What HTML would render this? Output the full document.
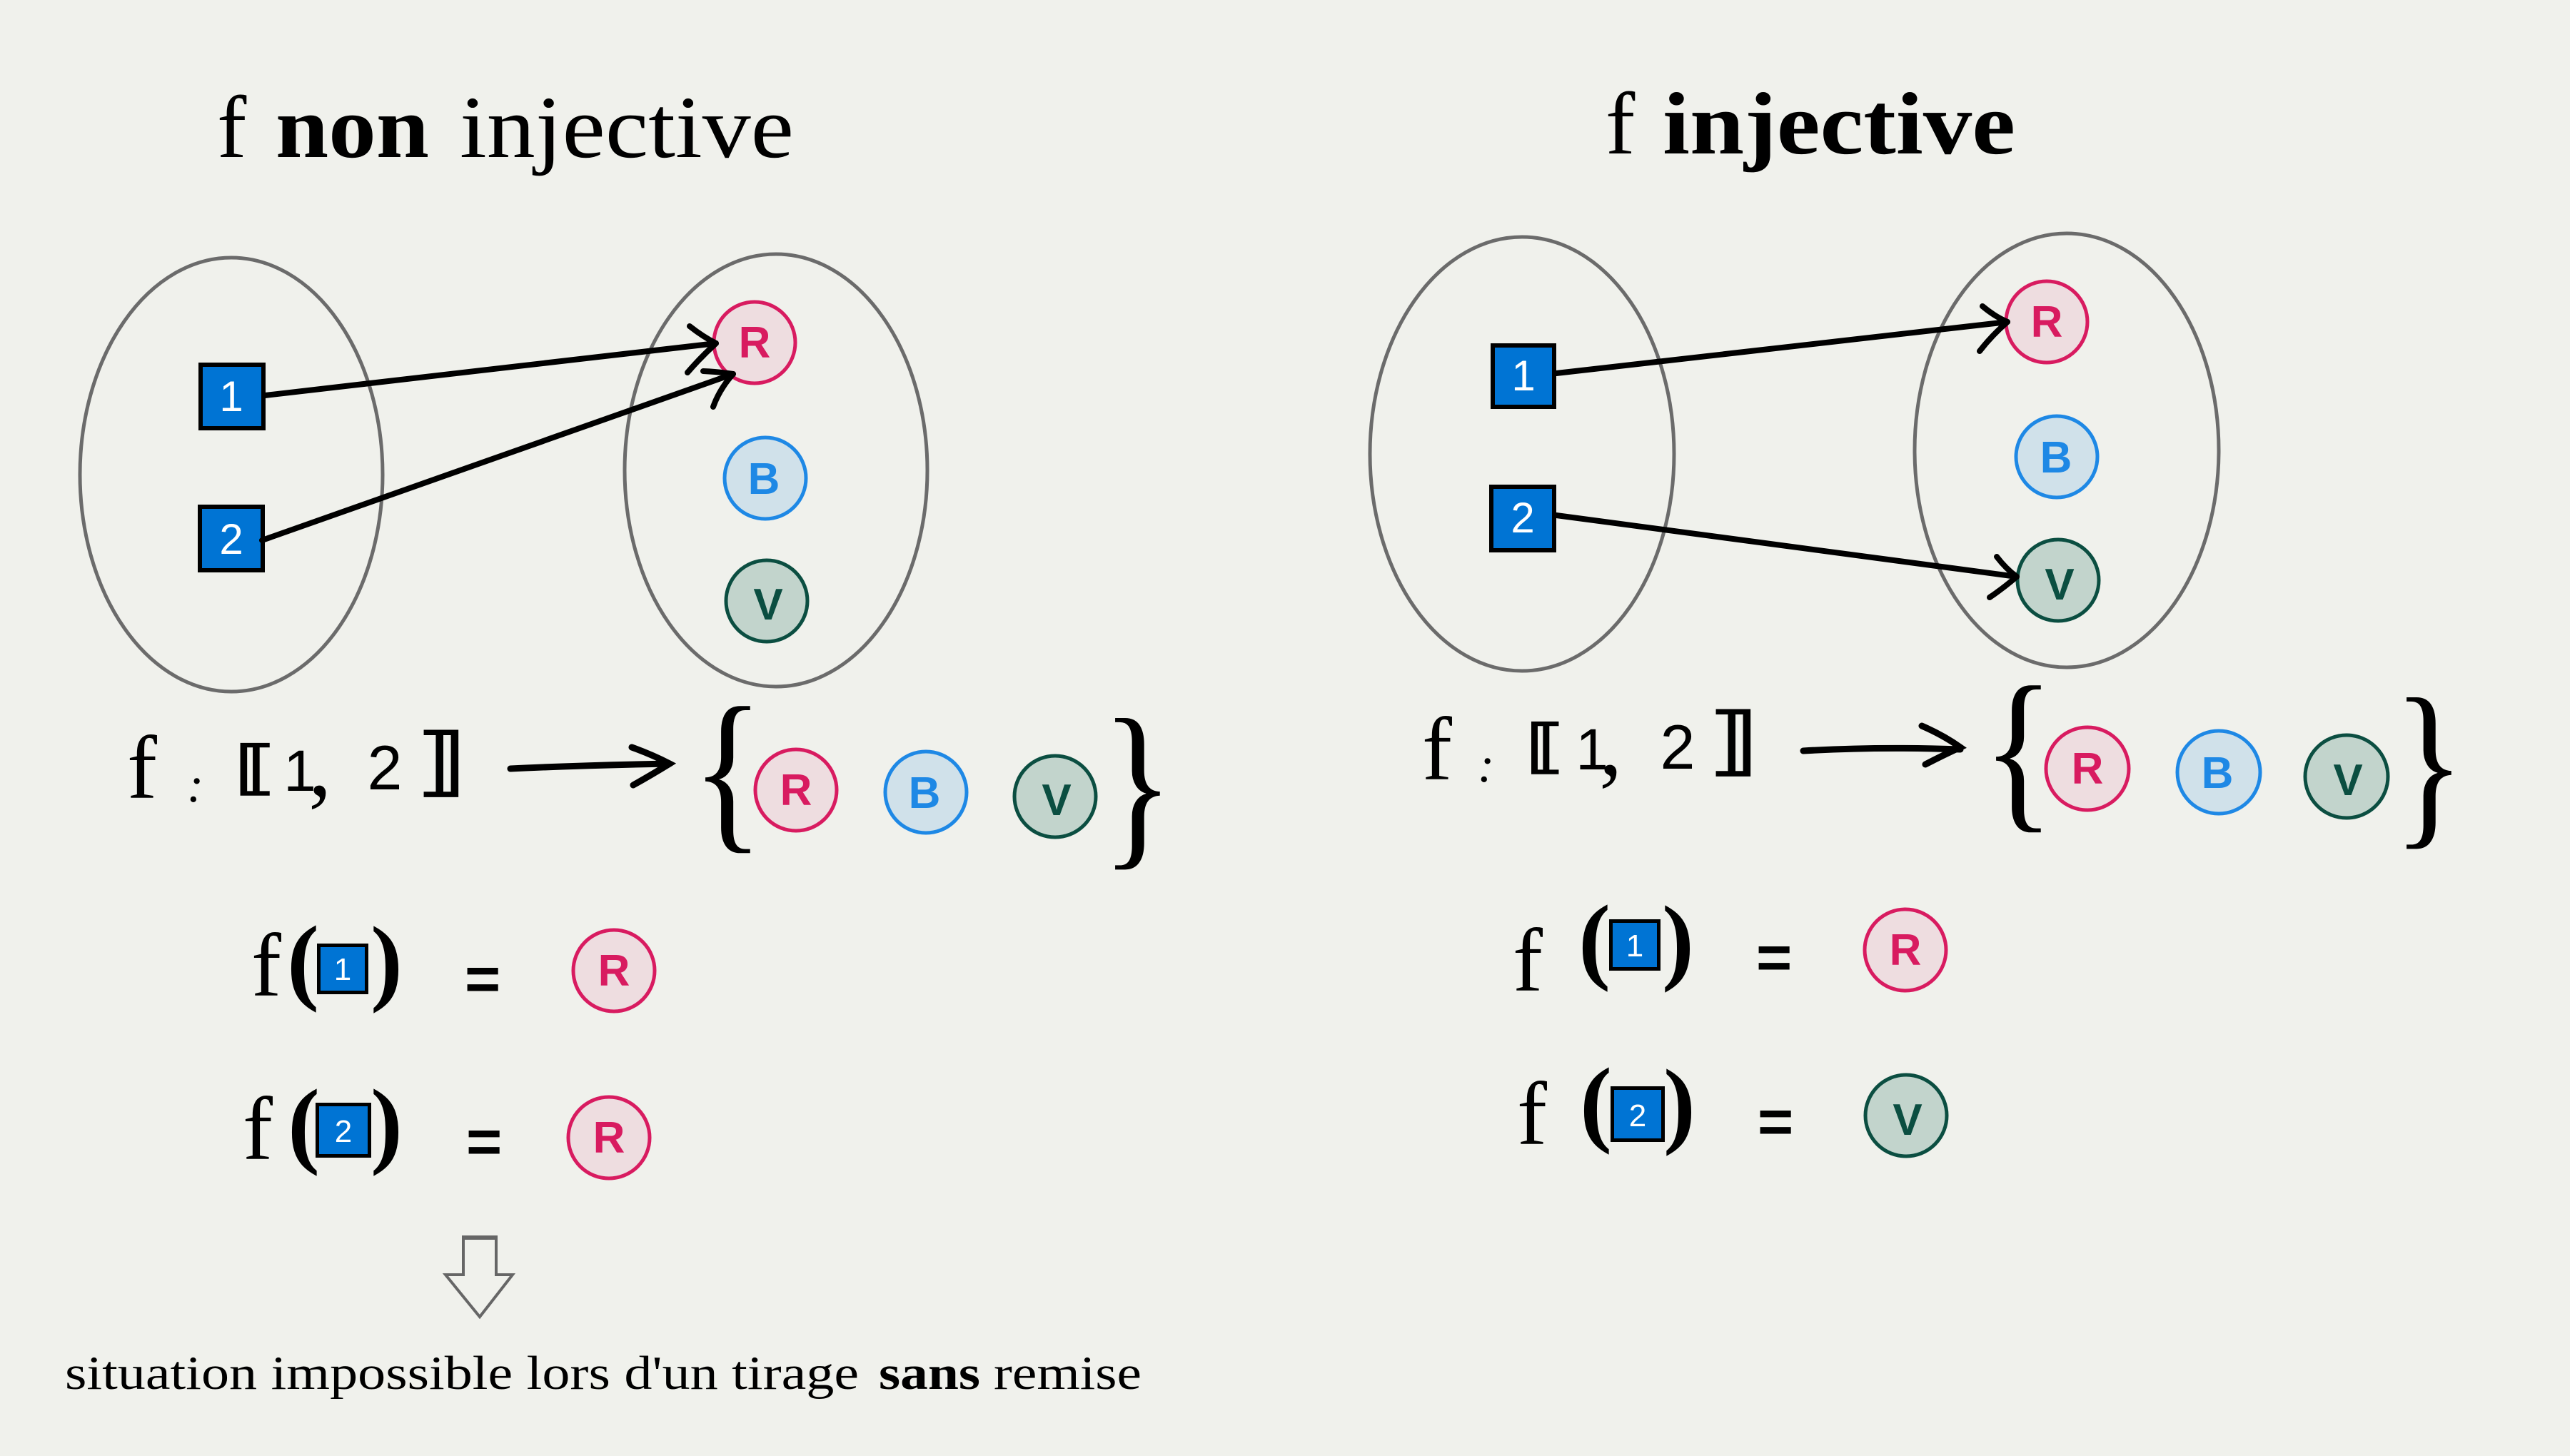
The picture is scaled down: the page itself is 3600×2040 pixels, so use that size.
<!DOCTYPE html>
<html>
<head>
<meta charset="utf-8">
<style>
  html, body { margin: 0; padding: 0; background: #f0f1ec; }
  svg { display: block; }
  .serif { font-family: "Liberation Serif", serif; }
  .sans { font-family: "Liberation Sans", sans-serif; }
  .dj { font-family: "DejaVu Sans", sans-serif; }
</style>
</head>
<body>
<svg xmlns="http://www.w3.org/2000/svg" width="3600" height="2040" viewBox="0 0 3600 2040">
  <rect x="0" y="0" width="3600" height="2040" fill="#f0f1ec"/>

  <!-- ================= TITLES ================= -->
  <g class="serif" fill="#000">
    <text x="304" y="220" font-size="124">f</text>
    <text x="386" y="220" font-size="124" font-weight="bold" textLength="215" lengthAdjust="spacingAndGlyphs">non</text>
    <text x="644" y="220" font-size="124" textLength="468" lengthAdjust="spacingAndGlyphs">injective</text>

    <text x="2249" y="215" font-size="124">f</text>
    <text x="2329" y="215" font-size="124" font-weight="bold" textLength="494" lengthAdjust="spacingAndGlyphs">injective</text>
  </g>

  <!-- ================= DIAGRAMS ================= -->
  <g fill="none" stroke="#6b6b6b" stroke-width="5">
    <ellipse cx="324" cy="665" rx="212" ry="304"/>
    <ellipse cx="1087" cy="659" rx="212" ry="303"/>
    <ellipse cx="2132" cy="636" rx="213" ry="304"/>
    <ellipse cx="2895" cy="631" rx="213" ry="304"/>
  </g>

  <!-- big squares -->
  <g stroke="#000" stroke-width="6" fill="#0074d4">
    <rect x="281" y="511" width="88" height="89"/>
    <rect x="280" y="710" width="88" height="89"/>
    <rect x="2091" y="484" width="86" height="86"/>
    <rect x="2089" y="682" width="88" height="89"/>
  </g>
  <g class="sans" fill="#fff" font-size="60" text-anchor="middle">
    <text x="324" y="576">1</text>
    <text x="324" y="776">2</text>
    <text x="2134" y="547">1</text>
    <text x="2133" y="746">2</text>
  </g>

  <!-- diagram circles -->
  <g stroke-width="5">
    <circle cx="1057" cy="480" r="57" fill="#eedde0" stroke="#d81b60"/>
    <circle cx="1072" cy="670" r="57" fill="#d0e1ea" stroke="#1e88e5"/>
    <circle cx="1074" cy="842" r="57" fill="#c2d4cc" stroke="#0b4e41"/>
    <circle cx="2867" cy="451" r="57" fill="#eedde0" stroke="#d81b60"/>
    <circle cx="2881" cy="640" r="57" fill="#d0e1ea" stroke="#1e88e5"/>
    <circle cx="2883" cy="813" r="57" fill="#c2d4cc" stroke="#0b4e41"/>
  </g>
  <g class="sans" font-weight="bold" font-size="62" text-anchor="middle">
    <text x="1057" y="501" fill="#d81b60">R</text>
    <text x="1070" y="692" fill="#1e88e5">B</text>
    <text x="1076" y="868" fill="#0b4e41">V</text>
    <text x="2867" y="472" fill="#d81b60">R</text>
    <text x="2880" y="662" fill="#1e88e5">B</text>
    <text x="2885" y="840" fill="#0b4e41">V</text>
  </g>

  <!-- diagram arrows -->
  <g fill="none" stroke="#000" stroke-width="8" stroke-linecap="round" stroke-linejoin="round">
    <path d="M371,554 L1003,481"/>
    <path d="M966,457 Q985,472 1003,481 Q982,500 963,522"/>
    <path d="M367,757 L1027,524"/>
    <path d="M985,520 Q1008,521 1027,524 Q1008,545 999,570"/>

    <path d="M2180,523 L2812,451"/>
    <path d="M2777,429 Q2795,444 2812,451 Q2790,470 2773,492"/>
    <path d="M2180,722 L2825,808"/>
    <path d="M2797,780 Q2810,797 2825,808 Q2805,825 2787,837"/>
  </g>

  <!-- ================= LEFT FORMULA ROW ================= -->
  <g fill="#000">
    <text class="serif" x="178" y="1118" font-size="126">f</text>
    <text class="serif" x="262" y="1123" font-size="70" font-style="italic">:</text>
    <text class="dj" transform="translate(328,1103) scale(1.5,1)" x="0" y="0" font-size="80" stroke="#000" stroke-width="2.5">⟦</text>
    <text class="sans" x="420" y="1108" font-size="82" text-anchor="middle">1</text>
    <text class="serif" x="432" y="1114" font-size="130">,</text>
    <text class="sans" x="539" y="1106" font-size="88" text-anchor="middle">2</text>
    <text class="dj" transform="translate(583,1102) scale(1.4,1)" x="0" y="0" font-size="103" stroke="#000" stroke-width="2.5">⟧</text>
    <text class="serif" transform="translate(969,1162) scale(1.4,1.66)" x="0" y="0" font-size="150">{</text>
    <text class="serif" transform="translate(1543,1184) scale(1.4,1.71)" x="0" y="0" font-size="150">}</text>
  </g>
  <g fill="none" stroke="#000" stroke-width="9" stroke-linecap="round">
    <path d="M715,1077 Q820,1072 938,1070"/>
    <path d="M885,1047 Q915,1058 938,1070 Q912,1086 887,1100"/>
  </g>
  <g stroke-width="5">
    <circle cx="1115" cy="1107" r="57" fill="#eedde0" stroke="#d81b60"/>
    <circle cx="1297" cy="1110" r="57" fill="#d0e1ea" stroke="#1e88e5"/>
    <circle cx="1478" cy="1116" r="57" fill="#c2d4cc" stroke="#0b4e41"/>
  </g>
  <g class="sans" font-weight="bold" font-size="62" text-anchor="middle">
    <text x="1115" y="1128" fill="#d81b60">R</text>
    <text x="1295" y="1132" fill="#1e88e5">B</text>
    <text x="1480" y="1142" fill="#0b4e41">V</text>
  </g>

  <!-- ================= RIGHT FORMULA ROW ================= -->
  <g fill="#000">
    <text class="serif" x="1992" y="1092" font-size="126">f</text>
    <text class="serif" x="2070" y="1095" font-size="70" font-style="italic">:</text>
    <text class="dj" transform="translate(2137,1073) scale(1.4,1)" x="0" y="0" font-size="80" stroke="#000" stroke-width="2.5">⟦</text>
    <text class="sans" x="2230" y="1078" font-size="82" text-anchor="middle">1</text>
    <text class="serif" x="2240" y="1085" font-size="130">,</text>
    <text class="sans" x="2350" y="1077" font-size="88" text-anchor="middle">2</text>
    <text class="dj" transform="translate(2393,1073) scale(1.4,1)" x="0" y="0" font-size="103" stroke="#000" stroke-width="2.5">⟧</text>
    <text class="serif" transform="translate(2777,1133) scale(1.4,1.66)" x="0" y="0" font-size="150">{</text>
    <text class="serif" transform="translate(3352,1155) scale(1.4,1.71)" x="0" y="0" font-size="150">}</text>
  </g>
  <g fill="none" stroke="#000" stroke-width="9" stroke-linecap="round">
    <path d="M2526,1052 Q2630,1046 2746,1050"/>
    <path d="M2692,1017 Q2722,1030 2746,1047 Q2722,1058 2697,1071"/>
  </g>
  <g stroke-width="5">
    <circle cx="2924" cy="1077" r="58" fill="#eedde0" stroke="#d81b60"/>
    <circle cx="3108" cy="1082" r="58" fill="#d0e1ea" stroke="#1e88e5"/>
    <circle cx="3287" cy="1088" r="58" fill="#c2d4cc" stroke="#0b4e41"/>
  </g>
  <g class="sans" font-weight="bold" font-size="62" text-anchor="middle">
    <text x="2924" y="1098" fill="#d81b60">R</text>
    <text x="3106" y="1104" fill="#1e88e5">B</text>
    <text x="3289" y="1114" fill="#0b4e41">V</text>
  </g>

  <!-- ================= LEFT f(x) ROWS ================= -->
  <g fill="#000">
    <text class="serif" x="352" y="1395" font-size="126">f</text>
    <text class="serif" x="402" y="1390" font-size="135" font-weight="bold">(</text>
    <text class="serif" x="519" y="1391" font-size="135" font-weight="bold">)</text>
    <text class="sans" x="651" y="1401" font-size="86" font-weight="bold">=</text>

    <text class="serif" x="340" y="1624" font-size="126">f</text>
    <text class="serif" x="403" y="1619" font-size="135" font-weight="bold">(</text>
    <text class="serif" x="519" y="1619" font-size="135" font-weight="bold">)</text>
    <text class="sans" x="653" y="1629" font-size="86" font-weight="bold">=</text>
  </g>
  <g stroke="#000" stroke-width="5" fill="#0074d4">
    <rect x="446.5" y="1324.5" width="67" height="66"/>
    <rect x="444.5" y="1547.5" width="73" height="72"/>
  </g>
  <g class="sans" fill="#fff" font-size="44" text-anchor="middle">
    <text x="480" y="1373">1</text>
    <text x="481" y="1600">2</text>
  </g>
  <g stroke-width="5">
    <circle cx="860" cy="1360" r="57" fill="#eedde0" stroke="#d81b60"/>
    <circle cx="853" cy="1594" r="57" fill="#eedde0" stroke="#d81b60"/>
  </g>
  <g class="sans" font-weight="bold" font-size="62" text-anchor="middle" fill="#d81b60">
    <text x="860" y="1381">R</text>
    <text x="853" y="1615">R</text>
  </g>

  <!-- ================= RIGHT f(x) ROWS ================= -->
  <g fill="#000">
    <text class="serif" x="2119" y="1388" font-size="126">f</text>
    <text class="serif" x="2211" y="1361" font-size="135" font-weight="bold">(</text>
    <text class="serif" x="2328" y="1362" font-size="135" font-weight="bold">)</text>
    <text class="sans" x="2460" y="1371" font-size="86" font-weight="bold">=</text>

    <text class="serif" x="2125" y="1603" font-size="126">f</text>
    <text class="serif" x="2213" y="1589" font-size="135" font-weight="bold">(</text>
    <text class="serif" x="2330" y="1591" font-size="135" font-weight="bold">)</text>
    <text class="sans" x="2462" y="1601" font-size="86" font-weight="bold">=</text>
  </g>
  <g stroke="#000" stroke-width="5" fill="#0074d4">
    <rect x="2256.5" y="1290.5" width="67" height="67"/>
    <rect x="2258.5" y="1524.5" width="71" height="73"/>
  </g>
  <g class="sans" fill="#fff" font-size="44" text-anchor="middle">
    <text x="2290" y="1340">1</text>
    <text x="2294" y="1578">2</text>
  </g>
  <g stroke-width="5">
    <circle cx="2669" cy="1331" r="57" fill="#eedde0" stroke="#d81b60"/>
    <circle cx="2670" cy="1563" r="57" fill="#c2d4cc" stroke="#0b4e41"/>
  </g>
  <g class="sans" font-weight="bold" font-size="62" text-anchor="middle">
    <text x="2669" y="1352" fill="#d81b60">R</text>
    <text x="2672" y="1590" fill="#0b4e41">V</text>
  </g>

  <!-- ================= DOWN ARROW + CAPTION ================= -->
  <polygon points="649,1733 695,1733 695,1786 718,1786 672,1845 624,1786 649,1786"
           fill="none" stroke="#666" stroke-width="4" stroke-linejoin="miter"/>
  <line x1="649" y1="1734" x2="695" y2="1734" stroke="#666" stroke-width="6"/>

  <g class="serif" fill="#000" font-size="67">
    <text x="91" y="1946" textLength="1112" lengthAdjust="spacingAndGlyphs">situation impossible lors d'un tirage</text>
    <text x="1231" y="1946" font-weight="bold" textLength="142" lengthAdjust="spacingAndGlyphs">sans</text>
    <text x="1392" y="1946" textLength="207" lengthAdjust="spacingAndGlyphs">remise</text>
  </g>
</svg>
</body>
</html>
